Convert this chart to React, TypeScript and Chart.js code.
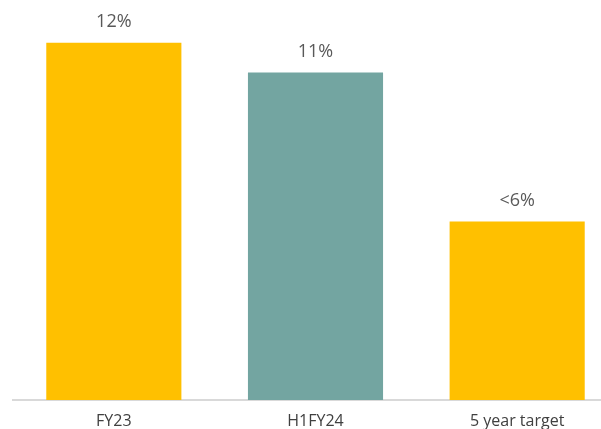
import React, { useEffect, useRef } from "react";
import { Chart, registerables } from "chart.js";

Chart.register(...registerables);

const categories = ["FY23", "H1FY24", "5 year target"];
const values = [12, 11, 6];
const valueLabels = ["12%", "11%", "<6%"];
const barColors = ["#FFC000", "#73A5A1", "#FFC000"];

const labelPlugin = {
  id: "barValueLabels",
  afterDatasetsDraw(chart: any) {
    const ctx = chart.ctx;
    const meta = chart.getDatasetMeta(0);
    ctx.save();
    ctx.fillStyle = "#595959";
    ctx.font = "18px 'Open Sans', sans-serif";
    ctx.textAlign = "center";
    ctx.textBaseline = "middle";
    meta.data.forEach((bar: any, i: number) => {
      ctx.fillText(valueLabels[i], bar.x, bar.y - 21);
    });
    ctx.restore();
  },
};

export default function App() {
  const ref = useRef<HTMLCanvasElement | null>(null);
  useEffect(() => {
    if (!ref.current) return;
    const chart = new Chart(ref.current, {
      type: "bar",
      data: {
        labels: categories,
        datasets: [
          {
            data: values,
            backgroundColor: barColors,
            barPercentage: 0.67,
            categoryPercentage: 1,
          },
        ],
      },
      options: {
        animation: false,
        responsive: false,
        maintainAspectRatio: false,
        layout: { padding: { left: 13, right: 2, top: 13, bottom: 0 } },
        plugins: { legend: { display: false }, tooltip: { enabled: false } },
        scales: {
          x: {
            grid: { display: false, drawTicks: false },
            border: { display: true, color: "#D9D9D9", width: 2 },
            ticks: {
              color: "#404040",
              font: { family: "'Open Sans', sans-serif", size: 16 },
              padding: 12,
            },
            afterFit: (scale: any) => {
              scale.height = 29;
            },
          },
          y: {
            display: false,
            min: 0,
            max: 13,
          },
        },
      },
      plugins: [labelPlugin],
    });
    return () => chart.destroy();
  }, []);
  return (
    <div
      style={{
        position: "fixed",
        left: 0,
        top: 0,
        width: 601,
        height: 429,
        overflow: "hidden",
        background: "#fff",
      }}
    >
      <canvas ref={ref} width={620} height={429} style={{ display: "block" }} />
    </div>
  );
}
